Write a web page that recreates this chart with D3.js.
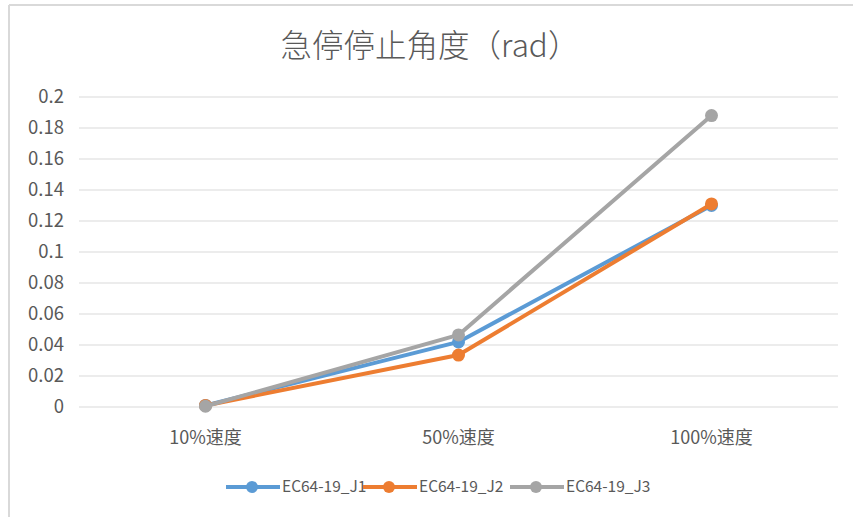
<!DOCTYPE html>
<html>
<head>
<meta charset="utf-8">
<script src="https://cdn.jsdelivr.net/npm/d3@7"></script>
<style>
  body { margin: 0; background: #fff; }
  text { font-family: "Noto Sans CJK SC", "Open Sans", sans-serif; fill: #595959; }
</style>
</head>
<body>
<svg width="853" height="517"></svg>
<script>
var categories = ["10%速度", "50%速度", "100%速度"]
var seriesNames = ["EC64-19_J1", "EC64-19_J2", "EC64-19_J3"]
var j1 = [0.001, 0.042, 0.130]
var j2 = [0.001, 0.0335, 0.131]
var j3 = [0.0005, 0.0465, 0.188]
var yTicks = [0, 0.02, 0.04, 0.06, 0.08, 0.1, 0.12, 0.14, 0.16, 0.18, 0.2]
var colors = ["#5B9BD5", "#ED7D31", "#A5A5A5"]

var series = [j1, j2, j3].map(function (vals, i) {
  return { name: seriesNames[i], values: vals, color: colors[i] }
})

var svg = d3.select('svg')

// outer frame (top and left edges visible)
svg.append('line').attr('x1', 9).attr('x2', 853).attr('y1', 5).attr('y2', 5)
  .attr('stroke', '#d9d9d9').attr('stroke-width', 2)
svg.append('line').attr('x1', 9).attr('x2', 9).attr('y1', 5).attr('y2', 517)
  .attr('stroke', '#d9d9d9').attr('stroke-width', 2)

var x = d3.scalePoint()
  .domain(categories)
  .range([79, 838])
  .padding(0.5)

var y = d3.scaleLinear()
  .domain([0, 0.2])
  .range([407, 97])

// gridlines
svg.append('g')
  .selectAll('line')
  .data(yTicks)
  .enter()
  .append('line')
    .attr('x1', 79)
    .attr('x2', 838)
    .attr('y1', d => y(d))
    .attr('y2', d => y(d))
    .attr('stroke', '#d9d9d9')
    .attr('stroke-width', 1)

// y tick labels
svg.append('g')
  .selectAll('text')
  .data(yTicks)
  .enter()
  .append('text')
    .attr('x', 64)
    .attr('y', d => y(d))
    .attr('dy', '0.35em')
    .attr('text-anchor', 'end')
    .attr('font-size', 18.5)
    .text(d => d3.format('')(+d.toFixed(2)))

// x labels
svg.append('g')
  .selectAll('text')
  .data(categories)
  .enter()
  .append('text')
    .attr('x', d => x(d))
    .attr('y', 444)
    .attr('text-anchor', 'middle')
    .attr('font-size', 18)
    .text(d => d)

// title
svg.append('text')
  .attr('x', 430)
  .attr('y', 57)
  .attr('text-anchor', 'middle')
  .attr('font-size', 31.5)
  .attr('font-weight', 300)
  .text('急停停止角度（rad）')

var line = d3.line()
  .x((d, i) => x(categories[i]))
  .y(d => y(d))

var g = svg.append('g')
  .selectAll('g')
  .data(series)
  .enter()
  .append('g')

g.append('path')
  .attr('d', d => line(d.values))
  .attr('fill', 'none')
  .attr('stroke', d => d.color)
  .attr('stroke-width', 4)
  .attr('stroke-linejoin', 'round')

g.selectAll('circle')
  .data(d => d.values.map(v => ({ v: v, color: d.color })))
  .enter()
  .append('circle')
    .attr('cx', (d, i) => x(categories[i]))
    .attr('cy', d => y(d.v))
    .attr('r', 6.5)
    .attr('fill', d => d.color)

// legend
var legendX = [226, 363, 510]
var legend = svg.append('g')
  .selectAll('g')
  .data(series)
  .enter()
  .append('g')
    .attr('transform', (d, i) => `translate(${legendX[i]},487)`)

legend.append('line')
  .attr('x1', 0).attr('x2', 54).attr('y1', 0).attr('y2', 0)
  .attr('stroke', d => d.color).attr('stroke-width', 4)
legend.append('circle')
  .attr('cx', 26).attr('cy', 0).attr('r', 6)
  .attr('fill', d => d.color)
legend.append('text')
  .attr('x', 56)
  .attr('dy', '0.35em')
  .attr('font-size', 15.5)
  .text(d => d.name)
</script>
</body>
</html>
